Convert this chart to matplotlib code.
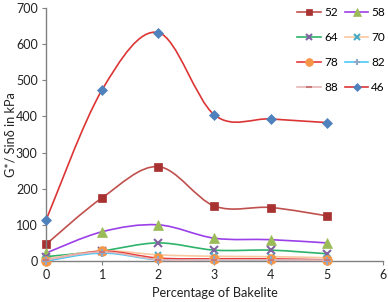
import matplotlib
matplotlib.use("Agg")
import matplotlib.pyplot as plt
from matplotlib.path import Path
from matplotlib.patches import PathPatch
from matplotlib.lines import Line2D
import numpy as np

x = [0, 1, 2, 3, 4, 5]
labels = ["52", "58", "64", "70", "78", "82", "88", "46"]
s52 = [46, 175, 261, 152, 148, 125]
s58 = [22, 81, 100, 63, 59, 50]
s64 = [12, 28, 50, 30, 30, 20]
s70 = [5, 28, 17, 13, 12, 9]
s78 = [0, 27, 8, 6, 6, 3]
s82 = [0, 22, 3, 2, 2, 1]
s88 = [3, 25, 4, 3, 3, 2]
s46 = [113, 474, 632, 404, 393, 383]
series = [s52, s58, s64, s70, s78, s82, s88, s46]

line_colors = ["#C0504D", "#9B3FE8", "#2DB36A", "#F8C8A0", "#E83A3A", "#4CC8F5", "#E6B5B5", "#DC3535"]
marker_colors = ["#A83232", "#9BBB59", "#8064A2", "#4BACC6", "#F79646", "#8EA9C8", "#C87878", "#4F81BD"]
markers = ["s", "^", "x", "x", "o", "+", "_", "D"]
msizes = [6, 7, 6, 5, 7, 6, 5, 5.5]

plt.rcParams['font.family'] = ['Lato', 'DejaVu Sans']

fig = plt.figure(figsize=(3.88, 3.02), dpi=100)
ax = fig.add_axes([0.1186, 0.1358, 0.987 - 0.1186, 0.9735 - 0.1358])


def smooth_path(xs, ys):
    pts = np.column_stack([xs, ys]).astype(float)
    n = len(pts)
    verts = [pts[0]]
    codes = [Path.MOVETO]
    for i in range(n - 1):
        p0 = pts[i - 1] if i > 0 else pts[i]
        p1 = pts[i]
        p2 = pts[i + 1]
        p3 = pts[i + 2] if i + 2 < n else pts[i + 1]
        c1 = p1 + (p2 - p0) / 6.0
        c2 = p2 - (p3 - p1) / 6.0
        verts += [c1, c2, p2]
        codes += [Path.CURVE4] * 3
    return Path(verts, codes)


handles = []
for i, (lab, ys) in enumerate(zip(labels, series)):
    z = 2 + i
    patch = PathPatch(smooth_path(x, ys), fill=False, edgecolor=line_colors[i], lw=1.2, zorder=z)
    ax.add_patch(patch)
    mk = markers[i]
    ew = 1.5 if mk in ("x", "+", "_") else 0.5
    ax.plot(x, ys, linestyle="none", marker=mk, markersize=msizes[i],
            markerfacecolor=marker_colors[i], markeredgecolor=marker_colors[i],
            markeredgewidth=ew, zorder=z + 0.5, clip_on=False)
    handles.append(Line2D([0], [0], color=line_colors[i], lw=1.2, marker=mk,
                          markersize=msizes[i] * 0.8, markerfacecolor=marker_colors[i],
                          markeredgecolor=marker_colors[i], markeredgewidth=ew))

ax.set_xlim(0, 6)
ax.set_ylim(0, 700)
ax.set_xticks(range(0, 7))
ax.set_yticks(range(0, 701, 100))
for side in ("top", "right"):
    ax.spines[side].set_visible(False)
for side in ("left", "bottom"):
    ax.spines[side].set_color("#808080")
    ax.spines[side].set_linewidth(1.0)
ax.tick_params(axis="both", direction="out", length=3, color="#808080", labelsize=9, labelcolor="#222222", pad=3)
ax.set_xlabel("Percentage of Bakelite", fontsize=9.2, color="#222222")
ax.set_ylabel("G*/ Sinδ in kPa", fontsize=9.2, color="#222222")
ax.yaxis.set_label_coords(-0.104, 0.5)
ax.xaxis.set_label_coords(0.5, -0.125)
ax.xaxis.label.set_va("center")
ax.yaxis.label.set_va("center")

order = [0, 2, 4, 6, 1, 3, 5, 7]
leg = fig.legend([handles[k] for k in order], [labels[k] for k in order], ncol=2,
                 loc="upper right", bbox_to_anchor=(1.0, 0.987), frameon=False,
                 fontsize=8.5, labelspacing=1.2, handlelength=2.0, handletextpad=0.25,
                 columnspacing=0.6, borderaxespad=0.0, borderpad=0.25)

fig.savefig("out.png", dpi=100)
